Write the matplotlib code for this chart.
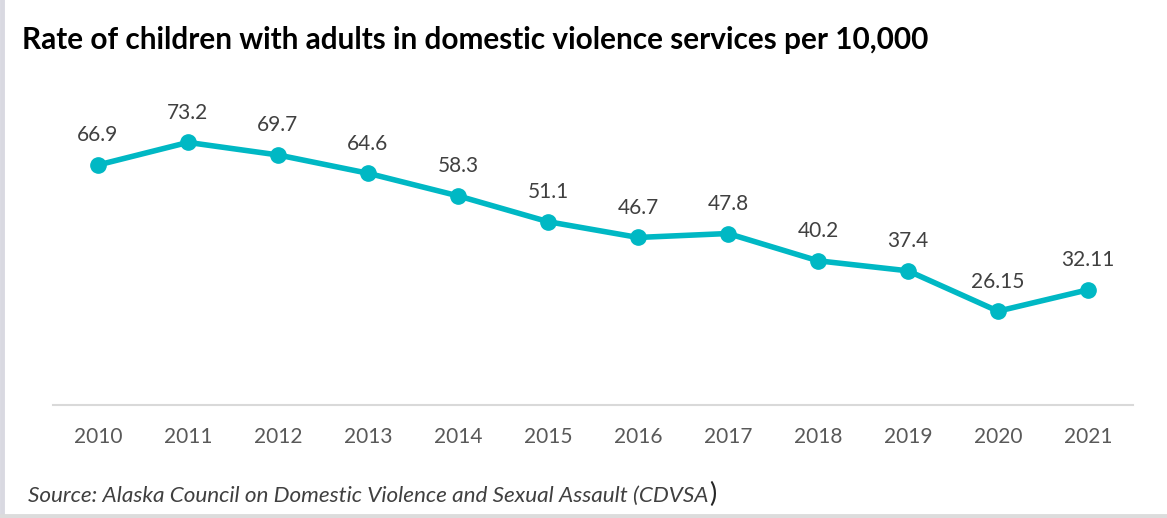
import matplotlib.pyplot as plt
import numpy as np

years = ['2010', '2011', '2012', '2013', '2014', '2015', '2016',
         '2017', '2018', '2019', '2020', '2021']
rates = [66.9, 73.2, 69.7, 64.6, 58.3, 51.1, 46.7, 47.8, 40.2, 37.4, 26.15, 32.11]
rate_labels = ['66.9', '73.2', '69.7', '64.6', '58.3', '51.1', '46.7',
               '47.8', '40.2', '37.4', '26.15', '32.11']

plt.rcParams['font.family'] = ['Lato', 'DejaVu Sans']

W, H = 1167, 518
fig = plt.figure(figsize=(W / 100, H / 100), dpi=100)
ax = fig.add_axes([53 / W, (H - 405) / H, (1133 - 53) / W, (405 - 118) / H])

x = np.arange(len(years))
teal = '#00B8C4'
ax.plot(x, rates, color=teal, lw=4, marker='o', ms=11, solid_capstyle='round')
for xi, v, lab in zip(x, rates, rate_labels):
    ax.annotate(lab, (xi, v), xytext=(0, 17), textcoords='offset points',
                ha='center', va='baseline', fontsize=15, color='#404040')

ax.set_xlim(-0.5, 11.5)
ax.set_ylim(0, 80)
ax.set_xticks(x)
ax.set_xticklabels(years, fontsize=15, color='#595959')
ax.tick_params(axis='x', length=0, pad=16)
ax.set_yticks([])
for s in ['top', 'left', 'right']:
    ax.spines[s].set_visible(False)
ax.spines['bottom'].set_color('#d9d9d9')
ax.spines['bottom'].set_linewidth(1.5)

fig.text(22 / W, 1 - 49 / H, 'Rate of children with adults in domestic violence services per 10,000',
         fontsize=21.4, fontweight='bold', color='black', ha='left', va='baseline')
src = fig.text(28 / W, 1 - 502 / H,
               'Source: Alaska Council on Domestic Violence and Sexual Assault (CDVSA',
               fontsize=16.2, style='italic', color='#404040', ha='left', va='baseline')
fig.canvas.draw()
bb = src.get_window_extent()
fig.text(bb.x1 / W + 1 / W, 1 - 502 / H, ')', fontsize=19.5, color='#262626',
         ha='left', va='baseline')

# frame edges of the original picture
fig.add_artist(plt.Line2D([2 / W, 2 / W], [0, 1], color='#d9d9e1', lw=3.5))
fig.add_artist(plt.Line2D([0, 1], [2 / H, 2 / H], color='#dcdcdc', lw=3.5))

fig.savefig('out.png', dpi=100)
